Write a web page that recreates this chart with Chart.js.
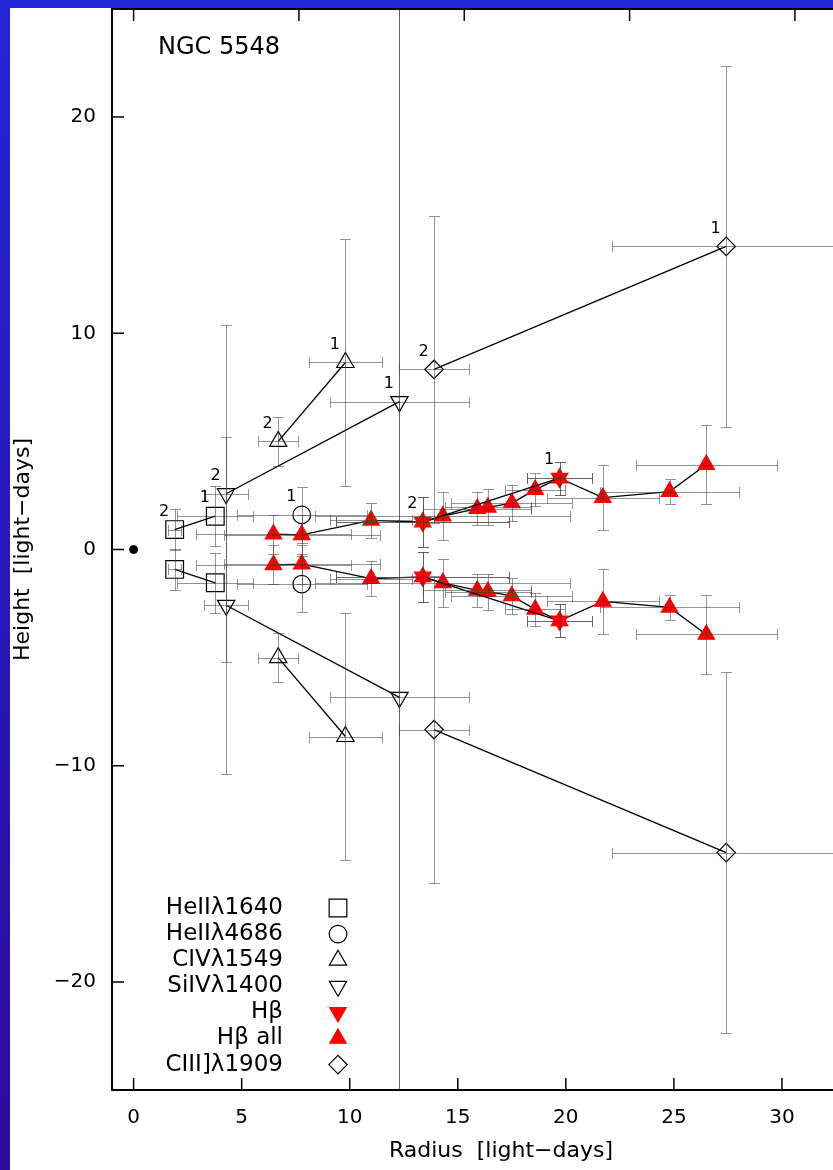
<!DOCTYPE html>
<html>
<head>
<meta charset="utf-8">
<title>NGC 5548</title>
<script src="https://cdn.jsdelivr.net/npm/chart.js"></script>
<style>
  html, body { margin: 0; padding: 0; }
  body {
    width: 833px;
    height: 1170px;
    overflow: hidden;
    background: linear-gradient(to bottom, #2424d8, #2c0a9c);
  }
  #wrap {
    position: absolute;
    left: 10px;
    top: 8px;
    width: 900px;
    height: 1162px;
    background: #fff;
  }
</style>
</head>
<body>
<div id="wrap"><canvas id="chart"></canvas></div>
<script>
// axis ticks (radius and height in light-days)
const xTickValues = [0, 5, 10, 15, 20, 25, 30];
const xTopTickValues = [0, 7.65, 15.3, 22.95, 30.6];
const yTickValues = [-20, -10, 0, 10, 20];

// HeII 1640
const heII1640R = [1.9, 3.78];
const heII1640Up = [0.92, 1.54];
const heII1640Down = [-0.92, -1.54];
const heII1640RErr = [0.3, 1.75];
const heII1640HErr = [0.95, 1.4];
const heII1640Tags = ['2', '1'];

// HeII 4686
const heII4686R = [7.78];
const heII4686Up = [1.6];
const heII4686Down = [-1.6];
const heII4686RErr = [3.0];
const heII4686HErr = [1.28];
const heII4686Tags = ['1'];

// CIV 1549
const civR = [6.69, 9.8];
const civUp = [5.0, 8.65];
const civDown = [-5.0, -8.65];
const civRErr = [0.93, 1.7];
const civHErr = [1.12, 5.73];
const civTags = ['2', '1'];

// SiIV 1400
const siivR = [4.28, 12.3];
const siivUp = [2.58, 6.84];
const siivDown = [-2.58, -6.84];
const siivRErr = [1.0, 3.2];
const siivHErr = [7.8, 40];
const siivTags = ['2', '1'];

// H-beta
const hbR = [13.38, 19.71];
const hbUp = [1.27, 3.3];
const hbDown = [-1.27, -3.3];
const hbRErr = [4.0, 1.5];
const hbHErr = [1.14, 0.77];
const hbTags = ['2', '1'];

// H-beta, all epochs
const hbAllR = [6.47, 7.78, 10.99, 13.38, 14.31, 15.9, 16.39, 17.5, 18.58, 19.71, 21.71, 24.8, 26.5];
const hbAllUp = [0.71, 0.68, 1.35, 1.27, 1.54, 1.89, 1.95, 2.15, 2.77, 3.3, 2.4, 2.68, 3.93];
const hbAllDown = [-0.71, -0.68, -1.35, -1.27, -1.54, -1.89, -1.95, -2.15, -2.77, -3.3, -2.4, -2.68, -3.93];
const hbAllRErr = [3.6, 3.6, 1.9, 4.0, 5.9, 2.5, 2.0, 2.8, 1.4, 1.5, 2.6, 3.2, 3.25];
const hbAllHErr = [0.9, 0.9, 0.8, 1.14, 1.1, 0.77, 0.83, 0.83, 0.77, 0.77, 1.5, 0.56, 1.84];

// CIII] 1909
const ciiiR = [13.9, 27.42];
const ciiiUp = [8.33, 14.02];
const ciiiDown = [-8.33, -14.02];
const ciiiRErr = [1.6, 5.3];
const ciiiHErr = [7.1, 8.35];
const ciiiTags = ['2', '1'];

const FONT = "'DejaVu Sans', sans-serif";

function pts(r, h) {
  return r.map((v, i) => ({ x: v, y: h[i] }));
}

const openSquare = { pointStyle: 'rect', pointRadius: 12.5, pointRotation: 0, pointBackgroundColor: 'rgba(0,0,0,0)', pointBorderColor: '#000' };
const openCircle = { pointStyle: 'circle', pointRadius: 8.8, pointRotation: 0, pointBackgroundColor: 'rgba(0,0,0,0)', pointBorderColor: '#000' };
const openUp = { pointStyle: 'triangle', pointRadius: 10, pointRotation: 0, pointBackgroundColor: 'rgba(0,0,0,0)', pointBorderColor: '#000' };
const openDown = { pointStyle: 'triangle', pointRadius: 10, pointRotation: 180, pointBackgroundColor: 'rgba(0,0,0,0)', pointBorderColor: '#000' };
const redDown = { pointStyle: 'triangle', pointRadius: 9.5, pointRotation: 180, pointBackgroundColor: '#ff0000', pointBorderColor: '#ff0000' };
const redUp = { pointStyle: 'triangle', pointRadius: 9.5, pointRotation: 0, pointBackgroundColor: '#ff0000', pointBorderColor: '#ff0000' };
const openDiamond = { pointStyle: 'rectRot', pointRadius: 9.2, pointRotation: 0, pointBackgroundColor: 'rgba(0,0,0,0)', pointBorderColor: '#000' };

// one dataset above the disk plane and one mirrored below it
function series(label, r, up, down, rErr, hErr, tags, marker) {
  const base = Object.assign({
    showLine: true,
    borderColor: '#000',
    borderWidth: 1.3,
    pointBorderWidth: 1.2,
    pointHoverRadius: 0,
    rErr: rErr,
    hErr: hErr
  }, marker);
  return [
    Object.assign({}, base, { label: label, data: pts(r, up), tags: tags, legendLabel: label }),
    Object.assign({}, base, { label: label + ' ', data: pts(r, down) })
  ];
}

const datasets = [].concat(
  series('HeIIλ1640', heII1640R, heII1640Up, heII1640Down, heII1640RErr, heII1640HErr, heII1640Tags, openSquare),
  series('HeIIλ4686', heII4686R, heII4686Up, heII4686Down, heII4686RErr, heII4686HErr, heII4686Tags, openCircle),
  series('CIVλ1549', civR, civUp, civDown, civRErr, civHErr, civTags, openUp),
  series('SiIVλ1400', siivR, siivUp, siivDown, siivRErr, siivHErr, siivTags, openDown),
  series('Hβ', hbR, hbUp, hbDown, hbRErr, hbHErr, hbTags, redDown),
  series('Hβ all', hbAllR, hbAllUp, hbAllDown, hbAllRErr, hbAllHErr, null, redUp),
  series('CIII]λ1909', ciiiR, ciiiUp, ciiiDown, ciiiRErr, ciiiHErr, ciiiTags, openDiamond),
  [{
    label: 'centre',
    data: [{ x: 0, y: 0 }],
    showLine: false,
    pointStyle: 'circle',
    pointRadius: 4,
    pointBackgroundColor: '#000',
    pointBorderColor: '#000',
    pointHoverRadius: 0
  }]
);

function crisp(v) {
  return Math.round(v) + 0.5;
}

// x and y error bars with small caps, drawn over the markers
const errorBars = {
  id: 'errorBars',
  afterDatasetsDraw(chart) {
    const { ctx, chartArea: a } = chart;
    const xs = chart.scales.x, ys = chart.scales.y;
    const cap = 5.5;
    ctx.save();
    ctx.beginPath();
    ctx.rect(a.left, a.top, a.right - a.left, a.bottom - a.top);
    ctx.clip();
    ctx.strokeStyle = 'rgba(60,60,60,0.55)';
    ctx.lineWidth = 1;
    chart.data.datasets.forEach(ds => {
      if (!ds.rErr) return;
      ds.data.forEach((p, i) => {
        const px = crisp(xs.getPixelForValue(p.x));
        const py = crisp(ys.getPixelForValue(p.y));
        const x0 = crisp(xs.getPixelForValue(p.x - ds.rErr[i]));
        const x1 = crisp(xs.getPixelForValue(p.x + ds.rErr[i]));
        const y0 = crisp(ys.getPixelForValue(p.y - ds.hErr[i]));
        const y1 = crisp(ys.getPixelForValue(p.y + ds.hErr[i]));
        ctx.beginPath();
        ctx.moveTo(x0, py); ctx.lineTo(x1, py);
        ctx.moveTo(x0, py - cap); ctx.lineTo(x0, py + cap);
        ctx.moveTo(x1, py - cap); ctx.lineTo(x1, py + cap);
        ctx.moveTo(px, y0); ctx.lineTo(px, y1);
        ctx.moveTo(px - cap, y0); ctx.lineTo(px + cap, y0);
        ctx.moveTo(px - cap, y1); ctx.lineTo(px + cap, y1);
        ctx.stroke();
      });
    });
    ctx.restore();
  }
};

// small "1"/"2" epoch numbers beside the upper points
const pointTags = {
  id: 'pointTags',
  afterDraw(chart) {
    const { ctx } = chart;
    const xs = chart.scales.x, ys = chart.scales.y;
    ctx.save();
    ctx.fillStyle = '#000';
    ctx.font = '16px ' + FONT;
    ctx.textAlign = 'center';
    ctx.textBaseline = 'middle';
    chart.data.datasets.forEach(ds => {
      if (!ds.tags) return;
      ds.data.forEach((p, i) => {
        ctx.fillText(ds.tags[i], xs.getPixelForValue(p.x) - 10.5, ys.getPixelForValue(p.y) - 18);
      });
    });
    ctx.restore();
  }
};

// gnuplot-style tick marks pointing into the plot
const innerTicks = {
  id: 'innerTicks',
  afterDraw(chart) {
    const { ctx, chartArea: a } = chart;
    const len = 12;
    ctx.save();
    ctx.strokeStyle = '#000';
    ctx.lineWidth = 1.5;
    ctx.beginPath();
    chart.scales.x.ticks.forEach(t => {
      const px = chart.scales.x.getPixelForValue(t.value);
      ctx.moveTo(px, a.bottom); ctx.lineTo(px, a.bottom - len);
    });
    chart.scales.xTop.ticks.forEach(t => {
      const px = chart.scales.xTop.getPixelForValue(t.value);
      ctx.moveTo(px, a.top); ctx.lineTo(px, a.top + len);
    });
    chart.scales.y.ticks.forEach(t => {
      const py = chart.scales.y.getPixelForValue(t.value);
      ctx.moveTo(a.left, py); ctx.lineTo(a.left + len, py);
    });
    ctx.stroke();
    ctx.restore();
  }
};

// key in the lower left corner: label on the left, symbol on the right
const keyBox = {
  id: 'keyBox',
  afterDraw(chart) {
    const { ctx, chartArea: a } = chart;
    const rows = chart.data.datasets.filter(ds => ds.legendLabel);
    const textX = a.left + 171;
    const symX = a.left + 226;
    const top = a.bottom - 182;
    const step = 26.1;
    ctx.save();
    ctx.font = '23px ' + FONT;
    ctx.textAlign = 'right';
    ctx.textBaseline = 'middle';
    rows.forEach((ds, i) => {
      const yy = top + i * step;
      ctx.fillStyle = '#000';
      ctx.fillText(ds.legendLabel, textX, yy);
      ctx.fillStyle = ds.pointBackgroundColor;
      ctx.strokeStyle = ds.pointBorderColor;
      ctx.lineWidth = 1.2;
      Chart.helpers.drawPoint(ctx, {
        pointStyle: ds.pointStyle,
        radius: ds.pointRadius,
        rotation: ds.pointRotation,
        borderWidth: 1.2
      }, symX, yy);
    });
    ctx.restore();
  }
};

// object name in the top left corner
const caption = {
  id: 'caption',
  afterDraw(chart) {
    const { ctx, chartArea: a } = chart;
    ctx.save();
    ctx.fillStyle = '#000';
    ctx.font = '24px ' + FONT;
    ctx.textAlign = 'left';
    ctx.textBaseline = 'middle';
    ctx.fillText('NGC 5548', a.left + 46, a.top + 39);
    ctx.restore();
  }
};

const minus = v => String(v).replace('-', '\u2212');

// keep the plot frame fixed: no extra room requested for edge labels
function noEdgePadding(s) {
  s.paddingTop = 0;
  s.paddingBottom = 0;
  s.paddingLeft = 0;
  s.paddingRight = 0;
}

new Chart(document.getElementById('chart'), {
  type: 'scatter',
  data: { datasets: datasets },
  options: {
    responsive: true,
    maintainAspectRatio: false,
    animation: false,
    layout: { autoPadding: false, padding: { left: 0, right: 20, top: 0, bottom: 0 } },
    plugins: {
      legend: { display: false },
      tooltip: { enabled: false }
    },
    scales: {
      x: {
        type: 'linear',
        position: 'bottom',
        min: -1,
        max: 35,
        afterBuildTicks: s => { s.ticks = xTickValues.map(v => ({ value: v })); },
        afterFit: s => { s.height = 80; noEdgePadding(s); },
        grid: { display: true, drawOnChartArea: false, drawTicks: false },
        border: { display: true, color: '#000', width: 2 },
        ticks: {
          color: '#000',
          font: { family: FONT, size: 20 },
          padding: 16,
          maxRotation: 0,
          autoSkip: false,
          callback: minus
        },
        title: {
          display: true,
          text: 'Radius  [light\u2212days]',
          color: '#000',
          font: { family: FONT, size: 22, lineHeight: 1 },
          padding: { top: 0, bottom: 8 }
        }
      },
      xTop: {
        type: 'linear',
        axis: 'x',
        position: 'top',
        min: -1,
        max: 35,
        afterBuildTicks: s => { s.ticks = xTopTickValues.map(v => ({ value: v })); },
        afterFit: s => { s.height = 1; noEdgePadding(s); },
        grid: { display: true, drawOnChartArea: false, drawTicks: false },
        border: { display: true, color: '#000', width: 2 },
        ticks: { display: false }
      },
      y: {
        type: 'linear',
        position: 'left',
        min: -25,
        max: 25,
        afterBuildTicks: s => { s.ticks = yTickValues.map(v => ({ value: v })); },
        afterFit: s => { s.width = 102; noEdgePadding(s); },
        grid: { display: true, drawOnChartArea: false, drawTicks: false },
        border: { display: true, color: '#000', width: 2 },
        ticks: {
          color: '#000',
          font: { family: FONT, size: 20 },
          padding: 16,
          callback: minus
        },
        title: {
          display: true,
          text: 'Height  [light\u2212days]',
          color: '#000',
          font: { family: FONT, size: 22, lineHeight: 1 },
          padding: { top: 2, bottom: 0 }
        }
      }
    }
  },
  plugins: [errorBars, pointTags, innerTicks, keyBox, caption]
});
</script>
</body>
</html>
